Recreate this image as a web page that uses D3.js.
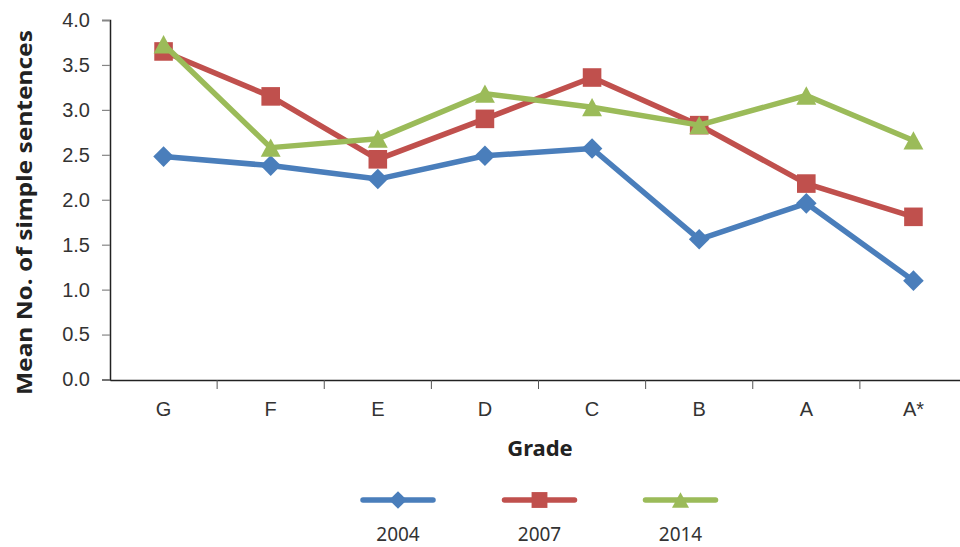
<!DOCTYPE html>
<html>
<head>
<meta charset="utf-8">
<script src="https://cdn.jsdelivr.net/npm/d3@7"></script>
<style>
  body { margin: 0; background: #fff; }
  svg { display: block; font-family: "Noto Sans", "Open Sans", sans-serif; }
</style>
</head>
<body>
<div id="chart"></div>
<script>
const grades = ["G", "F", "E", "D", "C", "B", "A", "A*"]
const years = ["2004", "2007", "2014"]
const values2004 = [2.48, 2.38, 2.23, 2.49, 2.57, 1.56, 1.96, 1.10]
const values2007 = [3.65, 3.15, 2.45, 2.90, 3.36, 2.83, 2.18, 1.81]
const values2014 = [3.73, 2.58, 2.68, 3.18, 3.03, 2.83, 3.16, 2.66]
const yTicks = [0, 0.5, 1, 1.5, 2, 2.5, 3, 3.5, 4]

const width = 960
const height = 547

const colors = { "2004": "#4a7ebb", "2007": "#c0504d", "2014": "#9bbb59" }

// triangle centred on its bounding box, like the spreadsheet marker
const triangleBox = {
  draw(context, size) {
    const w = Math.sqrt(size) * 1.15
    const h = w * 0.92
    context.moveTo(0, -h / 2)
    context.lineTo(w / 2, h / 2)
    context.lineTo(-w / 2, h / 2)
    context.closePath()
  }
}
const symbols = { "2004": d3.symbolDiamond2, "2007": d3.symbolSquare2, "2014": triangleBox }
const markerSize = { "2004": 270, "2007": 440, "2014": 300 }
const legendSize = { "2004": 200, "2007": 320, "2014": 220 }

const series = years.map((y, i) => ({
  year: y,
  values: [values2004, values2007, values2014][i]
}))

const svg = d3.select("#chart")
  .append("svg")
  .attr("width", width)
  .attr("height", height)

const x = d3.scaleBand()
  .domain(grades)
  .range([110, 967])
  .paddingInner(0)

const y = d3.scaleLinear()
  .domain([0, 4])
  .range([379.5, 20])

// y axis
const yAxis = svg.append("g")
  .attr("transform", "translate(110,0)")
  .call(d3.axisLeft(y).tickValues(yTicks).tickFormat(d3.format(".1f")).tickSizeOuter(0).tickSize(8).tickPadding(12))
yAxis.select(".domain").attr("stroke", "#222").attr("stroke-width", 1.5)
yAxis.selectAll(".tick line").attr("stroke", "#868686").attr("stroke-width", 1.2)
yAxis.selectAll(".tick text").attr("fill", "#333").style("font-size", "20px")

// x axis
const xAxis = svg.append("g")
  .attr("transform", "translate(0,380)")
  .call(d3.axisBottom(x).tickSize(0).tickPadding(22))
xAxis.select(".domain").attr("stroke", "#222").attr("stroke-width", 1.5)
xAxis.selectAll(".tick text").attr("fill", "#333").style("font-size", "20px")

// tick marks between categories
svg.append("g")
  .selectAll("line")
  .data(grades.slice(1))
  .join("line")
  .attr("x1", d => x(d))
  .attr("x2", d => x(d))
  .attr("y1", 380)
  .attr("y2", 389)
  .attr("stroke", "#555")
  .attr("stroke-width", 1)

// axis titles
svg.append("text")
  .attr("transform", "translate(32,212.5) rotate(-90)")
  .attr("text-anchor", "middle")
  .attr("fill", "#222")
  .attr("textLength", 365)
  .attr("lengthAdjust", "spacingAndGlyphs")
  .style("font-size", "22px")
  .style("font-weight", "bold")
  .text("Mean No. of simple sentences")

svg.append("text")
  .attr("x", 540)
  .attr("y", 456)
  .attr("text-anchor", "middle")
  .attr("fill", "#222")
  .style("font-size", "22px")
  .style("font-weight", "bold")
  .text("Grade")

const cx = d => x(d) + x.bandwidth() / 2

const line = d3.line()
  .x((d, i) => cx(grades[i]))
  .y(d => y(d))

const groups = svg.append("g")
  .selectAll("g")
  .data(series)
  .join("g")

groups.append("path")
  .attr("d", d => line(d.values))
  .attr("fill", "none")
  .attr("stroke", d => colors[d.year])
  .attr("stroke-width", 5.5)
  .attr("stroke-linejoin", "round")

groups.each(function (s) {
  d3.select(this).selectAll("path.marker")
    .data(s.values)
    .join("path")
    .attr("class", "marker")
    .attr("transform", (d, i) => `translate(${cx(grades[i])},${y(d)})`)
    .attr("d", d3.symbol().type(symbols[s.year]).size(markerSize[s.year]))
    .attr("fill", colors[s.year])
})

// legend
const legendCenters = [398, 539.5, 680.5]
const legend = svg.append("g")
  .selectAll("g")
  .data(years)
  .join("g")
  .attr("transform", (d, i) => `translate(${legendCenters[i]},500)`)

legend.append("line")
  .attr("x1", -35)
  .attr("x2", 35)
  .attr("stroke", d => colors[d])
  .attr("stroke-width", 5.5)
  .attr("stroke-linecap", "round")

legend.append("path")
  .attr("d", d => d3.symbol().type(symbols[d]).size(legendSize[d])())
  .attr("fill", d => colors[d])

legend.append("text")
  .attr("y", 41)
  .attr("text-anchor", "middle")
  .attr("fill", "#333")
  .style("font-size", "19px")
  .text(d => d)
</script>
</body>
</html>
